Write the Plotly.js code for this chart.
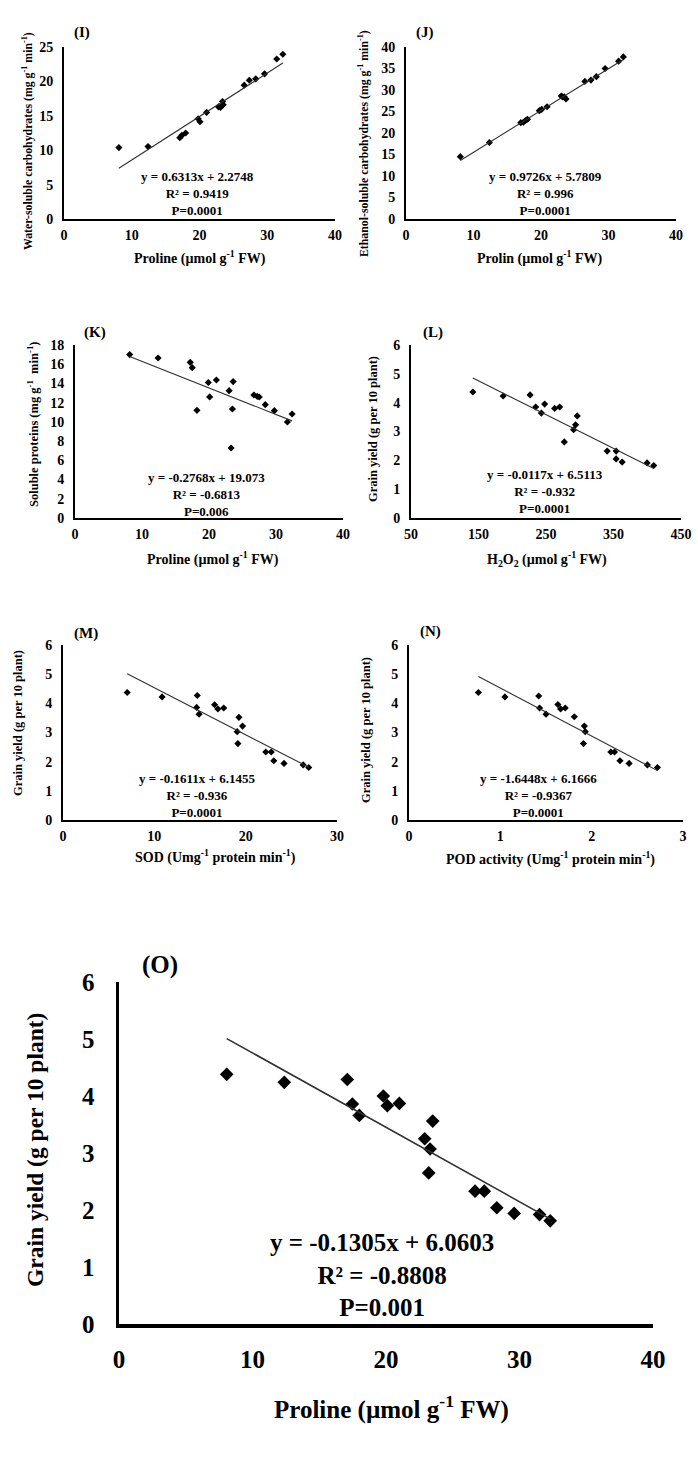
<!DOCTYPE html>
<html>
<head>
<meta charset="utf-8">
<script src="https://cdn.plot.ly/plotly-3.0.1.min.js"></script>
<style>
  html, body { margin: 0; padding: 0; background: #ffffff; }
  #chart { width: 698px; height: 1457px; }
</style>
</head>
<body>
<div id="chart"></div>
<script>
// ---- Measured values (one array per series) ----
// (I) proline vs water-soluble carbohydrates
const prolineI = [8.1, 12.4, 17.1, 17.4, 17.95, 19.8, 20.07, 21.05, 22.8, 23.1, 23.4, 23.5, 26.6, 27.35, 28.3, 29.6, 31.4, 32.3];
const waterSolubleCarb = [10.38, 10.52, 11.82, 12.16, 12.5, 14.57, 14.14, 15.49, 16.3, 16.2, 17.08, 16.6, 19.45, 20.17, 20.37, 21.1, 23.26, 23.94];

// (J) proline vs ethanol-soluble carbohydrates
const prolineJ = [8.05, 12.35, 17.0, 17.4, 17.7, 18.0, 19.75, 20.1, 20.9, 23.0, 23.2, 23.45, 23.7, 26.5, 27.4, 28.2, 29.5, 31.5, 32.2];
const ethanolSolubleCarb = [14.5, 17.8, 22.4, 22.5, 22.9, 23.2, 25.2, 25.5, 26.1, 28.6, 28.4, 28.4, 27.9, 32.0, 32.3, 33.1, 35.0, 36.7, 37.7];

// (K) proline vs soluble proteins
const prolineK = [8.16, 12.4, 17.2, 17.5, 18.2, 19.9, 20.1, 21.1, 23.0, 23.3, 23.5, 23.6, 26.7, 27.2, 27.5, 28.4, 29.75, 31.7, 32.4];
const solubleProteins = [17.0, 16.65, 16.2, 15.64, 11.2, 14.1, 12.6, 14.36, 13.25, 7.28, 11.34, 14.19, 12.8, 12.66, 12.59, 11.79, 11.17, 9.99, 10.82];

// (L) H2O2 vs grain yield
const h2o2 = [141.6, 186.5, 226.4, 234.7, 243.1, 248.0, 262.8, 270.2, 277.1, 290.9, 293.8, 296.3, 340.6, 353.9, 353.9, 362.8, 399.8, 409.6];
const yieldL = [4.37, 4.23, 4.27, 3.85, 3.64, 3.95, 3.80, 3.85, 2.64, 3.06, 3.23, 3.54, 2.32, 2.32, 2.05, 1.94, 1.91, 1.82];

// (M) SOD vs grain yield
const sod = [7.03, 10.85, 14.7, 14.63, 14.9, 16.6, 16.96, 17.6, 19.26, 19.07, 19.15, 19.66, 22.2, 22.8, 23.08, 24.2, 26.3, 26.9];
const yieldM = [4.37, 4.22, 4.27, 3.86, 3.63, 3.95, 3.81, 3.84, 3.52, 3.03, 2.62, 3.22, 2.33, 2.33, 2.03, 1.94, 1.89, 1.80];

// (N) POD activity vs grain yield
const pod = [0.76, 1.05, 1.42, 1.43, 1.50, 1.63, 1.66, 1.71, 1.81, 1.92, 1.93, 1.91, 2.21, 2.25, 2.31, 2.41, 2.61, 2.72];
const yieldN = [4.37, 4.22, 4.25, 3.84, 3.63, 3.96, 3.81, 3.84, 3.54, 3.22, 3.03, 2.62, 2.33, 2.33, 2.03, 1.94, 1.89, 1.80];

// (O) proline vs grain yield
const prolineO = [8.07, 12.38, 17.1, 17.48, 18.0, 19.8, 20.1, 21.0, 22.9, 23.3, 23.2, 23.5, 26.67, 27.36, 28.3, 29.6, 31.5, 32.3];
const yieldO = [4.38, 4.24, 4.29, 3.86, 3.66, 4.0, 3.83, 3.87, 3.25, 3.07, 2.65, 3.56, 2.33, 2.33, 2.04, 1.94, 1.92, 1.81];

// Regression results printed on each panel: [slope, intercept, R2 text, P text]
const fitI = [0.6313, 2.2748, '0.9419', '0.0001'];
const fitJ = [0.9726, 5.7809, '0.996', '0.0001'];
const fitK = [-0.2768, 19.073, '-0.6813', '0.006'];
const fitL = [-0.0117, 6.5113, '-0.932', '0.0001'];
const fitM = [-0.1611, 6.1455, '-0.936', '0.0001'];
const fitN = [-1.6448, 6.1666, '-0.9367', '0.0001'];
const fitO = [-0.1305, 6.0603, '-0.8808', '0.001'];

// Axis titles
const yTitleI = 'Water-soluble carbohydrates (mg g<sup>-1</sup> min<sup>-1</sup>)';
const yTitleJ = 'Ethanol-soluble carbohydrates (mg g<sup>-1</sup> min<sup>-1</sup>)';
const yTitleK = 'Soluble proteins (mg g<sup>-1</sup>  min<sup>-1</sup>)';
const yTitleYield = 'Grain yield (g per 10 plant)';
const xTitleProline = 'Proline (µmol g<sup>-1</sup> FW)';
const xTitleProlin = 'Prolin (µmol g<sup>-1</sup> FW)';
const xTitleH2O2 = 'H<sub>2</sub>O<sub>2</sub> (µmol g<sup>-1</sup> FW)';
const xTitleSOD = 'SOD (Umg<sup>-1</sup> protein min<sup>-1</sup>)';
const xTitlePOD = 'POD activity (Umg<sup>-1</sup> protein min<sup>-1</sup>)';

// ---- Page geometry (pixels) ----
const W = 698, H = 1457;
const fx = p => p / W;
const fy = p => 1 - p / H;
const FONT = '"Liberation Serif", "Times New Roman", serif';

const small = { tick: 14, title: 14, eq: 13, tag: 15, marker: 5.5, axisW: 2, lineW: 1.1, standoffY: 6, standoffX: 2 };
const big = { tick: 25, title: 25, eq: 25, tag: 25, marker: 10.5, axisW: 3.5, lineW: 1.6, standoffY: 16, standoffX: 10 };

const panels = [
  { tag: '(I)', x: prolineI, y: waterSolubleCarb, fit: fitI, xr: [0, 40], xd: 10, yr: [0, 25], yd: 5,
    box: [64, 335, 47, 219], tagAt: [82, 33], eqAt: [197, 193], xtAt: [200, 257], ytAt: [27, 141],
    xt: xTitleProline, yt: yTitleI, ytSize: 11.8, s: small },
  { tag: '(J)', x: prolineJ, y: ethanolSolubleCarb, fit: fitJ, xr: [0, 40], xd: 10, yr: [0, 40], yd: 5,
    box: [406, 676, 47, 219], tagAt: [425, 33], eqAt: [545, 193], xtAt: [540, 257], ytAt: [363, 144],
    xt: xTitleProlin, yt: yTitleJ, ytSize: 11.8, s: small },
  { tag: '(K)', x: prolineK, y: solubleProteins, fit: fitK, xr: [0, 40], xd: 10, yr: [0, 18], yd: 2,
    box: [75, 343, 345, 518], tagAt: [95, 333], eqAt: [206, 494], xtAt: [213, 558], ytAt: [33, 425],
    xt: xTitleProline, yt: yTitleK, ytSize: 12.5, s: small },
  { tag: '(L)', x: h2o2, y: yieldL, fit: fitL, xr: [50, 450], xd: 100, yr: [0, 6], yd: 1,
    box: [411, 681, 345, 518], tagAt: [433, 333], eqAt: [545, 492], xtAt: [547, 559], ytAt: [373, 429],
    xt: xTitleH2O2, yt: yTitleYield, ytSize: 12.5, s: small },
  { tag: '(M)', x: sod, y: yieldM, fit: fitM, xr: [0, 30], xd: 10, yr: [0, 6], yd: 1,
    box: [63, 337, 645, 820], tagAt: [86, 633], eqAt: [197, 795], xtAt: [215, 857], ytAt: [18, 723],
    xt: xTitleSOD, yt: yTitleYield, ytSize: 12.5, s: small },
  { tag: '(N)', x: pod, y: yieldN, fit: fitN, xr: [0, 3], xd: 1, yr: [0, 6], yd: 1,
    box: [409, 683, 645, 820], tagAt: [430, 632], eqAt: [538, 795], xtAt: [550, 858], ytAt: [366, 730],
    xt: xTitlePOD, yt: yTitleYield, ytSize: 12.5, s: small },
  { tag: '(O)', x: prolineO, y: yieldO, fit: fitO, xr: [0, 40], xd: 10, yr: [0, 6], yd: 1,
    box: [119, 653, 982, 1324], tagAt: [160, 965], eqAt: [382, 1275], xtAt: [391, 1407], ytAt: [35, 1150],
    xt: xTitleProline, yt: yTitleYield, ytSize: 23.5, s: big }
];

const traces = [];
const layout = {
  width: W, height: H,
  margin: { l: 0, r: 0, t: 0, b: 0 },
  paper_bgcolor: '#ffffff', plot_bgcolor: '#ffffff',
  showlegend: false,
  font: { family: FONT, color: '#000000' },
  annotations: []
};

panels.forEach((p, i) => {
  const n = i === 0 ? '' : String(i + 1);
  const xa = 'x' + n, ya = 'y' + n;
  const s = p.s;

  traces.push({
    type: 'scatter', mode: 'markers', x: p.x, y: p.y, xaxis: xa, yaxis: ya,
    marker: { symbol: 'diamond', size: s.marker, color: '#000000' },
    cliponaxis: false, hoverinfo: 'x+y'
  });

  // Linear trend line from the printed regression equation, over the data span
  const x0 = Math.min(...p.x), x1 = Math.max(...p.x);
  traces.push({
    type: 'scatter', mode: 'lines', x: [x0, x1], y: [p.fit[0] * x0 + p.fit[1], p.fit[0] * x1 + p.fit[1]],
    xaxis: xa, yaxis: ya, line: { color: '#303030', width: s.lineW }, hoverinfo: 'skip'
  });

  const common = {
    showgrid: false, zeroline: false, showline: true, linecolor: '#000000', linewidth: s.axisW,
    ticks: '', fixedrange: true,
    tickfont: { family: FONT, size: s.tick, color: '#000000', weight: 700 }
  };
  layout['xaxis' + n] = Object.assign({}, common, {
    domain: [fx(p.box[0]), fx(p.box[1])], range: p.xr, dtick: p.xd, tick0: p.xr[0],
    anchor: ya, ticklabelstandoff: s.standoffX
  });
  layout['yaxis' + n] = Object.assign({}, common, {
    domain: [fy(p.box[3]), fy(p.box[2])], range: p.yr, dtick: p.yd, tick0: 0,
    anchor: xa, ticklabelstandoff: s.standoffY
  });

  const eqText = 'y = ' + p.fit[0] + 'x + ' + p.fit[1] + '<br>R² = ' + p.fit[2] + '<br>P=' + p.fit[3];
  const ann = (text, at, size, extra) => Object.assign({
    text: text, xref: 'paper', yref: 'paper', x: fx(at[0]), y: fy(at[1]),
    xanchor: 'center', yanchor: 'middle', showarrow: false,
    font: { family: FONT, size: size, color: '#000000', weight: 700 }
  }, extra || {});

  layout.annotations.push(ann(p.tag, p.tagAt, s.tag));
  layout.annotations.push(ann(eqText, p.eqAt, s.eq));
  layout.annotations.push(ann(p.xt, p.xtAt, s.title));
  layout.annotations.push(ann(p.yt, p.ytAt, p.ytSize, { textangle: -90 }));
});

Plotly.newPlot('chart', traces, layout, { displayModeBar: false, staticPlot: true });
</script>
</body>
</html>
